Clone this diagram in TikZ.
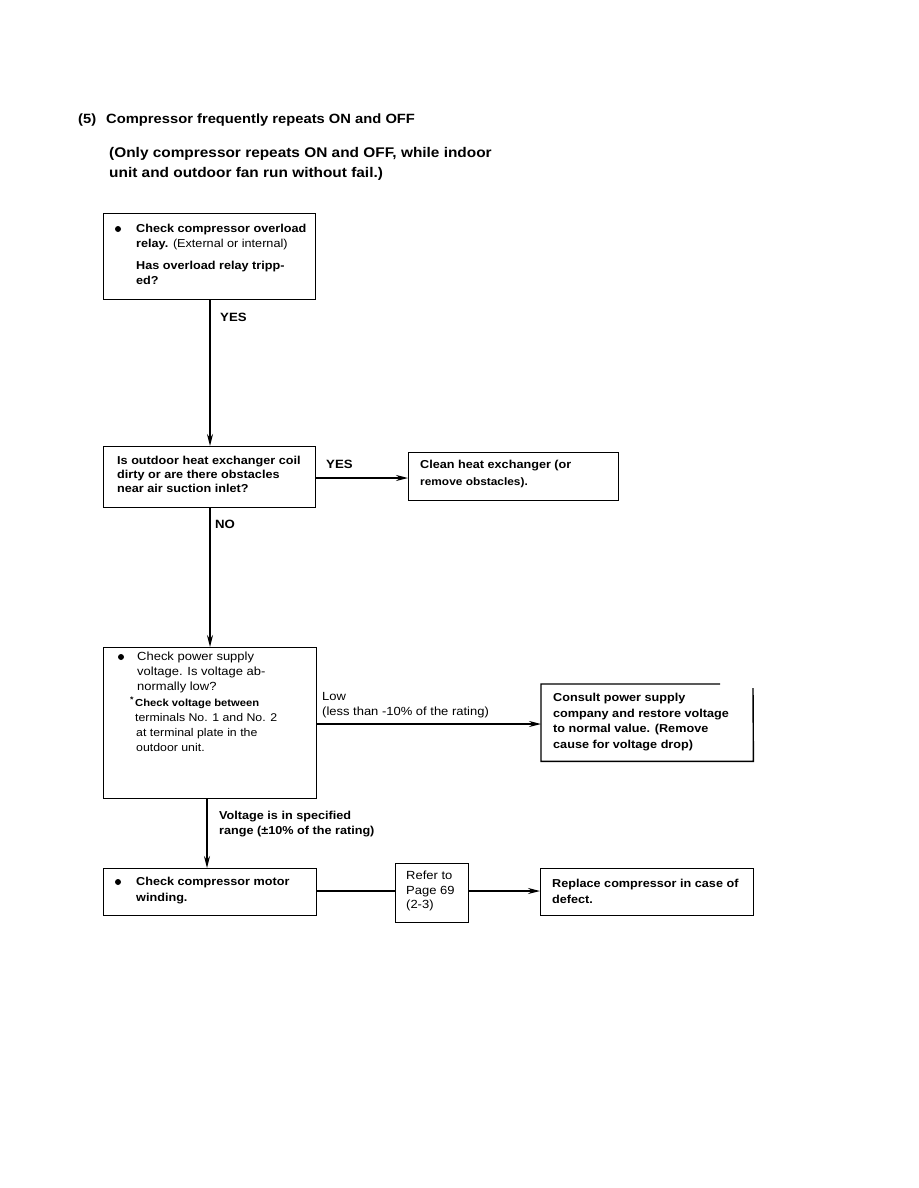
\documentclass[tikz,border=0pt]{standalone}
\usepackage{fontspec}
\setmainfont[FakeStretch=1.1]{Liberation Sans}
\usetikzlibrary{arrows.meta}
\begin{document}
\begin{tikzpicture}[x=1pt,y=-1pt,
  box/.style={draw,line width=1.4pt,inner sep=0pt,anchor=north west},
  txt/.style={anchor=north west,inner sep=0pt,align=left,font=\bfseries\fontsize{11.5}{15.5}\selectfont},
  reg/.style={anchor=north west,inner sep=0pt,align=left,font=\mdseries\fontsize{11.5}{16}\selectfont},
  dot/.style={circle,fill,inner sep=0pt,minimum size=6pt},
  arr/.style={line width=1.4pt,-{Stealth[length=12pt,width=6pt]}},
  conn/.style={line width=1.4pt}]
\useasboundingbox (0,0) rectangle (918,1188);
% title
\node[anchor=base west,inner sep=0pt,font=\bfseries\fontsize{13.4}{15}\selectfont] (title) at (78,123.5) {(5)\hspace{10pt}Compressor frequently repeats ON and OFF};
\node[anchor=north west,inner sep=0pt,align=left,font=\bfseries\fontsize{14}{20}\selectfont] (sub) at (109,147) {(Only compressor repeats ON and OFF, while indoor\\unit and outdoor fan run without fail.)};
% boxes
\node[box,minimum width=212pt,minimum height=86pt] (b1) at (103,213) {};
\node[box,minimum width=212pt,minimum height=61pt] (b2) at (103,446) {};
\node[box,minimum width=210pt,minimum height=48pt] (b3) at (408,452) {};
\node[box,minimum width=213pt,minimum height=151pt] (b4) at (103,647) {};
\node[inner sep=0pt,anchor=north west,minimum width=212pt,minimum height=77pt] (b5) at (541,684) {};
\draw[line width=1.4pt] (720,684) -- (b5.north west) -- (b5.south west) -- (b5.south east) -- (753,688);
\node[box,minimum width=213pt,minimum height=47pt] (b6) at (103,868) {};
\node[box,minimum width=73pt,minimum height=59pt] (b7) at (395,863) {};
\node[box,minimum width=213pt,minimum height=47pt] (b8) at (540,868) {};
% box texts
\node[dot] (d1) at (118,229) {};
\node[txt,font=\bfseries\fontsize{11.5}{14.5}\selectfont] (t1) at (136,224) {Check compressor overload\\relay. {\mdseries(External or internal)}};
\node[txt,font=\bfseries\fontsize{11.5}{15}\selectfont] (t1b) at (136,261) {Has overload relay tripp-\\ed?};
\node[txt,font=\bfseries\fontsize{11.5}{14}\selectfont] (t2) at (117,456) {Is outdoor heat exchanger coil\\dirty or are there obstacles\\near air suction inlet?};
\node[txt,font=\bfseries\fontsize{11.5}{17}\selectfont] (t3) at (420,460) {Clean heat exchanger (or\\{\fontsize{10.8}{17}\selectfont remove obstacles).}};
\node[dot] (d4) at (121,657) {};
\node[reg,font=\mdseries\fontsize{11.8}{15}\selectfont] (t4) at (137,652) {Check power supply\\voltage. Is voltage ab-\\normally low?};
\node[anchor=north west,inner sep=0pt,font=\bfseries\fontsize{8}{8}\selectfont] (ast) at (130,697) {*};
\node[txt,font=\bfseries\fontsize{10.2}{15}\selectfont] (t4b) at (135,699) {Check voltage between};
\node[reg,font=\mdseries\fontsize{11.2}{15}\selectfont] (t4c) at (135,713) {terminals No. 1 and No. 2\\\hspace{1pt}at terminal plate in the\\\hspace{1pt}outdoor unit.};
\node[txt,font=\bfseries\fontsize{11.5}{15.5}\selectfont] (t5) at (553,693) {Consult power supply\\company and restore voltage\\to normal value. (Remove\\cause for voltage drop)};
\node[dot] (d6) at (118,882) {};
\node[txt,font=\bfseries\fontsize{11.5}{16}\selectfont] (t6) at (136,877) {Check compressor motor\\winding.};
\node[reg,font=\mdseries\fontsize{11.8}{14.5}\selectfont] (t7) at (406,871) {Refer to\\Page 69\\(2-3)};
\node[txt,font=\bfseries\fontsize{11.5}{16}\selectfont] (t8) at (552,879) {Replace compressor in case of\\defect.};
% connectors
\draw[arr] (b1.south -| 210,0) -- (b2.north -| 210,0);
\draw[arr] (b2.east |- 0,478) -- (b3.west |- 0,478);
\draw[arr] (b2.south -| 210,0) -- (b4.north -| 210,0);
\draw[arr] (b4.east |- 0,724) -- (b5.west |- 0,724);
\draw[arr] (b4.south -| 207,0) -- (b6.north -| 207,0);
\draw[conn] (b6.east |- 0,891) -- (b7.west |- 0,891);
\draw[arr] (b7.east |- 0,891) -- (b8.west |- 0,891);
% labels
\node[txt,font=\bfseries\fontsize{12}{15}\selectfont] (l1) at (220,313) {YES};
\node[txt,font=\bfseries\fontsize{12}{15}\selectfont] (l2) at (326,460) {YES};
\node[txt,font=\bfseries\fontsize{12}{15}\selectfont] (l3) at (215,520) {NO};
\node[reg,font=\mdseries\fontsize{11.8}{15}\selectfont] (l4) at (322,692) {Low\\(less than -10\% of the rating)};
\node[txt,font=\bfseries\fontsize{11.5}{15}\selectfont] (l5) at (219,811) {Voltage is in specified\\range (±10\% of the rating)};
\end{tikzpicture}
\end{document}
